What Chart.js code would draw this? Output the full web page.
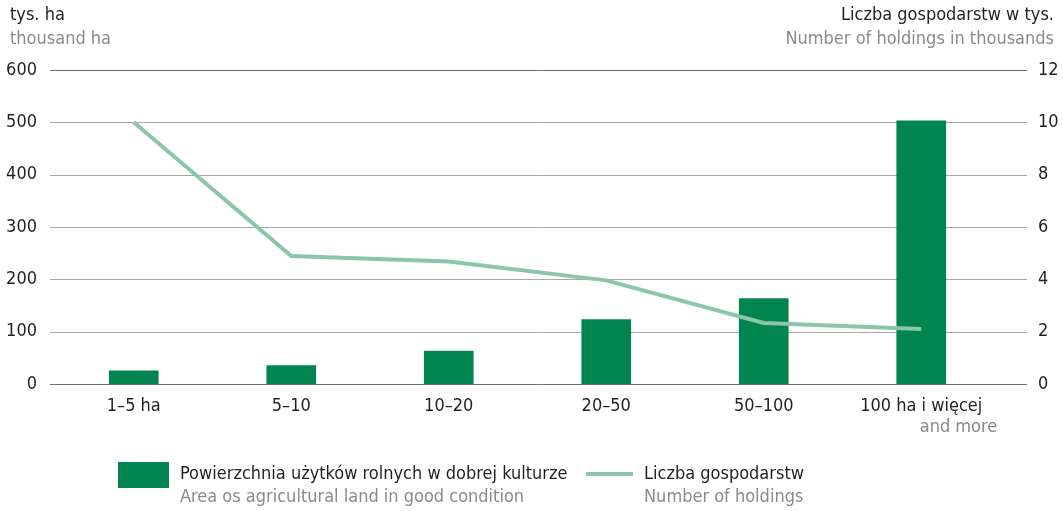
<!DOCTYPE html>
<html>
<head>
<meta charset="utf-8">
<script src="https://cdn.jsdelivr.net/npm/chart.js@4"></script>
<style>
  body { margin: 0; background: #fff; }
  #wrap { position: relative; width: 1063px; height: 511px; font-family: "Liberation Sans Narrow", "DejaVu Sans Condensed", sans-serif; }
  #grafica { position: absolute; left: 0; top: 0; }
  .t { position: absolute; white-space: nowrap; font-size: 18px; line-height: 22px; }
  .pl { color: #231f20; }
  .en { color: #8a8a8a; }
  .sw { position: absolute; left: 118px; top: 462px; width: 51px; height: 26px; }
  .ln { position: absolute; left: 586px; top: 472px; width: 47px; height: 4px; }
</style>
</head>
<body>
<div id="wrap">
  <canvas id="grafica" width="1063" height="511"></canvas>
  <div class="t pl" style="left:10px;top:3px">tys. ha</div>
  <div class="t en" style="left:10px;top:27px">thousand ha</div>
  <div class="t pl" style="right:9px;top:3px;text-align:right">Liczba gospodarstw w tys.</div>
  <div class="t en" style="right:9px;top:27px;text-align:right">Number of holdings in thousands</div>
  <div class="sw" id="sw1"></div>
  <div class="t pl" style="left:180px;top:462px" id="leg1"></div>
  <div class="t en" style="left:180px;top:485px">Area os agricultural land in good condition</div>
  <div class="ln" id="sw2"></div>
  <div class="t pl" style="left:644px;top:462px" id="leg2"></div>
  <div class="t en" style="left:644px;top:485px">Number of holdings</div>
</div>
<script>
// Grupy obszarowe (kategorie)
const kategorie = ["1–5 ha", "5–10", "10–20", "20–50", "50–100", "100 ha i więcej"];
// Powierzchnia UR w dobrej kulturze, tys. ha (lewa oś)
const powierzchnia = [25, 35, 63, 123, 163, 503];
// Liczba gospodarstw w tys. (prawa oś)
const gospodarstwa = [10.0, 4.89, 4.68, 3.96, 2.33, 2.1];
// Etykiety osi
const tickiLewe = [0, 100, 200, 300, 400, 500, 600];
const tickiPrawe = [0, 2, 4, 6, 8, 10, 12];

const zielony = 'rgb(0, 133, 80)';
const jasnyZielony = 'rgb(140, 198, 168)';
const czcionka = '"Liberation Sans Narrow", "DejaVu Sans Condensed", sans-serif';

document.getElementById('sw1').style.background = zielony;
document.getElementById('sw2').style.background = jasnyZielony;
document.getElementById('leg1').textContent = 'Powierzchnia użytków rolnych w dobrej kulturze';
document.getElementById('leg2').textContent = 'Liczba gospodarstw';

// Linie siatki rysowane szerzej niż obszar wykresu
const siatka = {
  id: 'siatka',
  beforeDatasetsDraw(chart) {
    const ctx = chart.ctx;
    const y = chart.scales.y;
    const a = chart.chartArea;
    ctx.save();
    ctx.lineWidth = 1;
    y.ticks.forEach((t) => {
      const py = Math.round(y.getPixelForValue(t.value)) + 0.5;
      ctx.strokeStyle = (t.value === 0 || t.value === 600) ? '#6d6d6d' : '#a8a8a8';
      ctx.beginPath();
      ctx.moveTo(a.left - 5, py);
      ctx.lineTo(a.right + 27, py);
      ctx.stroke();
    });
    ctx.restore();
  },
  afterDraw(chart) {
    // druga linia etykiety ostatniej kategorii
    const ctx = chart.ctx;
    const x = chart.scales.x;
    const px = x.getPixelForValue(kategorie.length - 1);
    ctx.save();
    ctx.font = '18px ' + czcionka;
    ctx.fillStyle = '#8a8a8a';
    ctx.textAlign = 'right';
    ctx.textBaseline = 'middle';
    ctx.fillText('and more', px + 76, x.top + 43);
    ctx.restore();
  }
};

const bezSiatki = { display: false, drawTicks: false, tickLength: 0 };

new Chart(document.querySelector('#grafica'), {
  type: 'bar',
  data: {
    labels: kategorie,
    datasets: [
      {
        type: 'line',
        label: 'Liczba gospodarstw',
        data: gospodarstwa,
        yAxisID: 'y2',
        borderColor: jasnyZielony,
        borderWidth: 4,
        pointRadius: 0,
        tension: 0,
        order: 0
      },
      {
        label: 'Powierzchnia użytków rolnych w dobrej kulturze',
        data: powierzchnia,
        yAxisID: 'y',
        backgroundColor: zielony,
        barThickness: 49,
        order: 1
      }
    ]
  },
  options: {
    responsive: false,
    animation: false,
    layout: { padding: { top: 70, left: 0, right: 0, bottom: 0 } },
    plugins: { legend: { display: false }, tooltip: { enabled: false } },
    scales: {
      x: {
        grid: bezSiatki,
        border: { display: false },
        ticks: { color: '#231f20', font: { family: czcionka, size: 18 }, padding: 12, maxRotation: 0 },
        afterFit(s) { s.height = 127; }
      },
      y: {
        position: 'left',
        min: 0, max: 600,
        afterBuildTicks(s) { s.ticks = tickiLewe.map(v => ({ value: v })); },
        grid: bezSiatki,
        border: { display: false },
        ticks: { color: '#231f20', font: { family: czcionka, size: 18 }, padding: 18 },
        afterFit(s) { s.width = 55; }
      },
      y2: {
        position: 'right',
        min: 0, max: 12,
        afterBuildTicks(s) { s.ticks = tickiPrawe.map(v => ({ value: v })); },
        grid: bezSiatki,
        border: { display: false },
        ticks: { color: '#231f20', font: { family: czcionka, size: 18 }, padding: 38 },
        afterFit(s) { s.width = 63; }
      }
    }
  },
  plugins: [siatka]
});
</script>
</body>
</html>
